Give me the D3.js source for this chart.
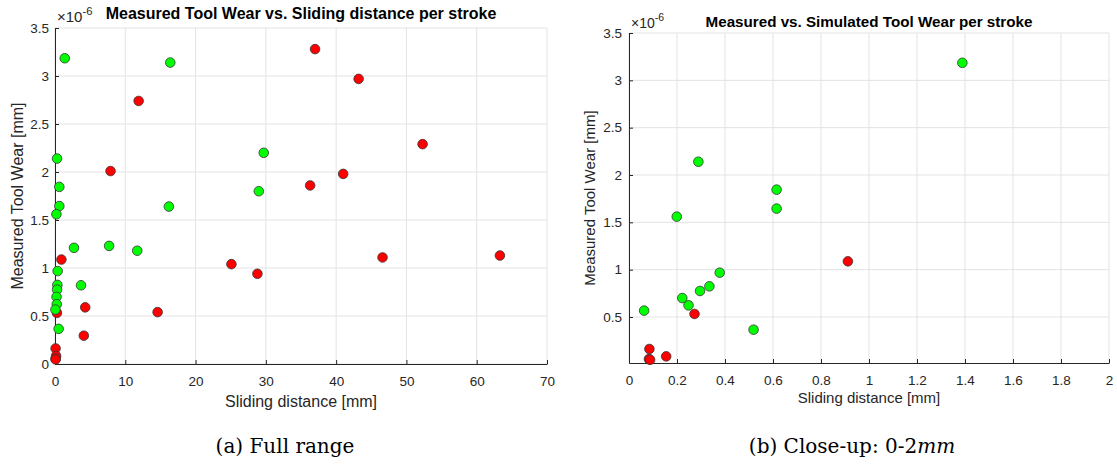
<!DOCTYPE html>
<html>
<head>
<meta charset="utf-8">
<script src="https://cdn.jsdelivr.net/npm/d3@7"></script>
<style>
  body { margin: 0; background: #fff; }
  svg { display: block; }
  .tick text { fill: #262626; }
</style>
</head>
<body>
<div id="vis-container"></div>
<script>
// Sliding distance [mm] and measured tool wear [x1e-6 mm]
const greenX = [1.389, 0.289, 0.615, 0.615, 0.199, 0.378, 0.335, 0.296, 0.222, 0.248, 0.063, 0.519,
                16.4, 29.7, 29.0, 16.2, 2.7, 7.7, 11.7, 3.7];
const greenY = [3.185, 2.14, 1.845, 1.645, 1.56, 0.968, 0.824, 0.775, 0.70, 0.623, 0.567, 0.366,
                3.14, 2.20, 1.80, 1.64, 1.21, 1.23, 1.18, 0.82];
const redX = [37.0, 43.2, 11.9, 7.9, 52.3, 41.0, 36.3, 25.1, 28.8, 46.6, 63.3, 14.6, 4.3, 4.1,
              0.912, 0.273, 0.085, 0.155, 0.083, 0.088];
const redY = [3.28, 2.97, 2.74, 2.01, 2.29, 1.98, 1.86, 1.04, 0.94, 1.11, 1.13, 0.54, 0.59, 0.295,
              1.088, 0.532, 0.162, 0.084, 0.055, 0.048];

const yTicksFull = [0, 0.5, 1, 1.5, 2, 2.5, 3, 3.5];
const xTicksFull = [0, 10, 20, 30, 40, 50, 60, 70];
const yTicksZoom = [0.5, 1, 1.5, 2, 2.5, 3, 3.5];
const xTicksZoom = [0, 0.2, 0.4, 0.6, 0.8, 1, 1.2, 1.4, 1.6, 1.8, 2];

const titles = ["Measured Tool Wear vs. Sliding distance per stroke", "Measured vs. Simulated Tool Wear per stroke"];
const xLabel = "Sliding distance [mm]";
const yLabel = "Measured Tool Wear [mm]";

const width = 1117;
const height = 469;
const sans = "'Liberation Sans', Arial, sans-serif";

const svg = d3.select("#vis-container")
    .append("svg")
    .attr("width", width)
    .attr("height", height);

svg.append("rect").attr("width", width).attr("height", height).attr("fill", "#fff");

const greenPts = greenX.map((x, i) => ({ x: x, y: greenY[i], c: "#00ff00" }));
const redPts = redX.map((x, i) => ({ x: x, y: redY[i], c: "#ff0000" }));

function drawPanel(p) {
    const x = d3.scaleLinear().domain(p.xDomain).range([p.left, p.right]);
    const y = d3.scaleLinear().domain(p.yDomain).range([p.bottom, p.top]);
    const g = svg.append("g");

    // grid
    g.append("g").selectAll("line").data(p.xTicks).join("line")
        .attr("x1", d => x(d)).attr("x2", d => x(d))
        .attr("y1", p.top).attr("y2", p.bottom)
        .attr("stroke", "#e3e3e3");
    g.append("g").selectAll("line").data(p.yTicks).join("line")
        .attr("x1", p.left).attr("x2", p.right)
        .attr("y1", d => y(d)).attr("y2", d => y(d))
        .attr("stroke", "#e3e3e3");

    // axes
    g.append("g")
        .attr("transform", `translate(0,${p.bottom})`)
        .call(d3.axisBottom(x).tickValues(p.xTicks).tickFormat(d => String(+d.toFixed(1)))
            .tickSizeInner(-4).tickSizeOuter(0).tickPadding(12))
        .attr("font-size", p.tickSize + "px")
        .attr("font-family", sans)
        .call(a => a.selectAll("line, path").attr("stroke", "#262626"));

    g.append("g")
        .attr("transform", `translate(${p.left},0)`)
        .call(d3.axisLeft(y).tickValues(p.yTicks).tickFormat(d => String(+d.toFixed(1)))
            .tickSizeInner(-4).tickSizeOuter(0).tickPadding(p.yPad))
        .attr("font-size", p.tickSize + "px")
        .attr("font-family", sans)
        .call(a => a.selectAll("line, path").attr("stroke", "#262626"));

    // exponent
    const ex = g.append("text")
        .attr("x", p.left + 2).attr("y", p.expY)
        .attr("font-family", sans)
        .attr("font-size", p.expSize + "px")
        .attr("fill", "#262626");
    ex.append("tspan").text("\u00d710");
    ex.append("tspan").attr("dy", -7).attr("font-size", (p.expSize * 0.75) + "px").text("-6");

    // title
    g.append("text")
        .attr("x", (p.left + p.right) / 2).attr("y", p.titleY)
        .attr("text-anchor", "middle")
        .attr("font-family", sans)
        .attr("font-weight", "bold")
        .attr("font-size", p.titleSize + "px")
        .attr("fill", "#000")
        .text(p.title);

    // axis labels
    g.append("text")
        .attr("x", (p.left + p.right) / 2).attr("y", p.xLabelY)
        .attr("text-anchor", "middle")
        .attr("font-family", sans)
        .attr("font-size", p.labelSize + "px")
        .attr("fill", "#262626")
        .text(xLabel);
    g.append("text")
        .attr("transform", `translate(${p.yLabelX},${(p.top + p.bottom) / 2}) rotate(-90)`)
        .attr("text-anchor", "middle")
        .attr("font-family", sans)
        .attr("font-size", p.labelSize + "px")
        .attr("fill", "#262626")
        .text(yLabel);

    // points, only those inside the axes range
    const pts = redPts.concat(greenPts).filter(d => d.x <= p.xDomain[1] && d.y >= p.yDomain[0] - 0.05);
    g.append("g").selectAll("circle").data(pts).join("circle")
        .attr("cx", d => x(d.x))
        .attr("cy", d => y(d.y))
        .attr("r", 4.8)
        .attr("fill", d => d.c)
        .attr("stroke", "#333")
        .attr("stroke-width", 0.8);

    // caption
    const cap = g.append("text")
        .attr("x", p.capX).attr("y", 453)
        .attr("text-anchor", "middle")
        .attr("font-family", "'DejaVu Serif', serif")
        .attr("font-size", "20px")
        .attr("fill", "#000");
    p.caption.forEach(c => cap.append("tspan").attr("font-style", c.italic ? "italic" : "normal").text(c.t));
}

drawPanel({
    xDomain: [0, 70], yDomain: [0, 3.5],
    left: 55, right: 547, top: 28, bottom: 364,
    xTicks: xTicksFull, yTicks: yTicksFull,
    tickSize: 13.5, labelSize: 16, titleSize: 16, expSize: 15, yPad: 6,
    expY: 22, titleY: 19, xLabelY: 407, yLabelX: 23,
    title: titles[0],
    capX: 285, caption: [{ t: "(a) Full range" }]
});

drawPanel({
    xDomain: [0, 2], yDomain: [0.014, 3.5],
    left: 629, right: 1109, top: 33, bottom: 363,
    xTicks: xTicksZoom, yTicks: yTicksZoom,
    tickSize: 13.5, labelSize: 15, titleSize: 15.2, expSize: 14, yPad: 7,
    expY: 28, titleY: 27, xLabelY: 403, yLabelX: 595,
    title: titles[1],
    capX: 852, caption: [{ t: "(b) Close-up: 0-2" }, { t: "mm", italic: true }]
});
</script>
</body>
</html>
